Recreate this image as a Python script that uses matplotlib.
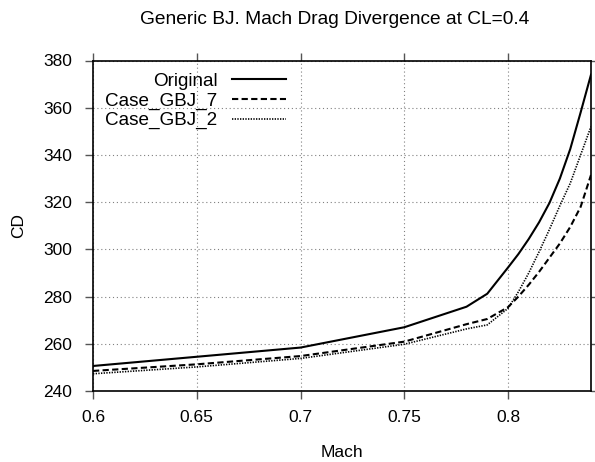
import matplotlib
matplotlib.use("Agg")
import matplotlib.pyplot as plt

plt.rcParams["font.family"] = ["Liberation Sans", "DejaVu Sans"]

# values
mach = [0.60, 0.65, 0.70, 0.75, 0.78, 0.79, 0.80, 0.805, 0.81, 0.815,
        0.82, 0.825, 0.83, 0.835, 0.84]
cd_original = [250.6, 254.5, 258.4, 267.0, 275.7, 281.2, 292.3, 298.0, 304.4, 311.5,
               319.7, 330.0, 342.5, 358.0, 374.0]
cd_gbj7 = [248.5, 251.3, 254.8, 260.9, 268.3, 270.5, 275.5, 280.0, 285.0, 290.5,
           296.5, 302.5, 309.5, 318.0, 331.5]
cd_gbj2 = [247.3, 250.2, 253.8, 259.8, 266.3, 268.0, 275.0, 282.0, 290.0, 299.0,
           308.5, 318.5, 328.0, 340.0, 352.0]

x_ticks = [0.6, 0.65, 0.7, 0.75, 0.8]
x_labels = ["0.6", "0.65", "0.7", "0.75", "0.8"]
y_ticks = [240, 260, 280, 300, 320, 340, 360, 380]

fig = plt.figure(figsize=(5.95, 4.62), dpi=100)
ax = fig.add_axes([93 / 595, 71 / 462, 498 / 595, 330.5 / 462])

ax.plot(mach, cd_original, color="black", lw=1.5, ls="-", label="Original")
ax.plot(mach, cd_gbj7, color="black", lw=1.5, ls=(0, (3, 1.6)), label="Case_GBJ_7")
ax.plot(mach, cd_gbj2, color="black", lw=1.2, ls=(0, (0.8, 0.8)), label="Case_GBJ_2")

ax.set_xlim(0.6, 0.84)
ax.set_ylim(240, 380)
ax.set_xticks(x_ticks)
ax.set_xticklabels(x_labels)
ax.set_yticks(y_ticks)

ax.grid(True, color="#808080", lw=0.8, ls=(0, (1, 2.5)))
ax.tick_params(direction="out", length=6, width=1, color="#555555",
               top=True, right=True, labelsize=12.5)
ax.tick_params(axis="x", pad=8)
ax.tick_params(axis="y", pad=9)
for sp in ax.spines.values():
    sp.set_linewidth(1.2)

ax.set_xlabel("Mach", fontsize=12.5, labelpad=14)
ax.set_ylabel("CD", fontsize=12.5, labelpad=12)
fig.text(335 / 595, 1 - 20 / 462, "Generic BJ. Mach Drag Divergence at CL=0.4",
         ha="center", va="center", fontsize=13.8)

ax.legend(loc="upper left", bbox_to_anchor=(0.0, 1.0), frameon=False,
          markerfirst=False, fontsize=13.6, handlelength=2.9,
          handletextpad=0.75, labelspacing=0.12, borderaxespad=0.25)

fig.savefig("out.png", dpi=100)
